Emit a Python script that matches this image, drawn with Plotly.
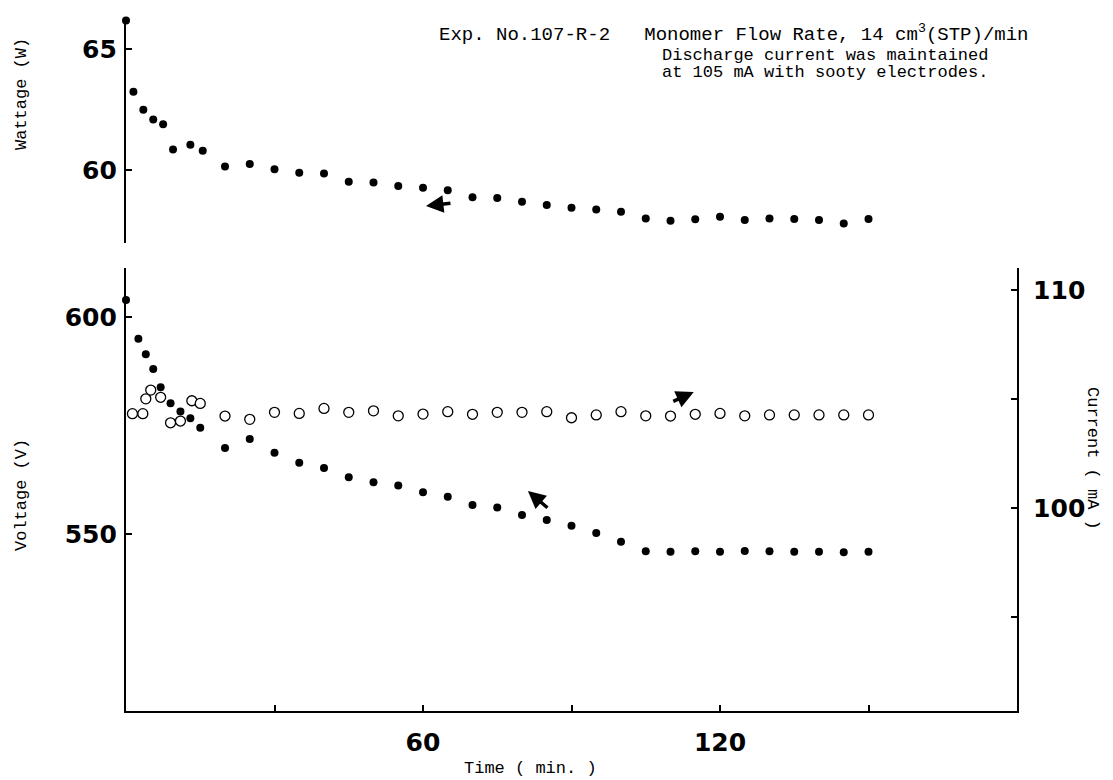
import plotly.graph_objects as go

# ---------------- data ----------------
# Upper panel: wattage (W), filled dots
t_watt = [0, 1.5, 3.5, 5.5, 7.5, 9.5, 13, 15.5, 20, 25,
          30, 35, 40, 45, 50, 55, 60, 65, 70, 75, 80, 85, 90, 95, 100,
          105, 110, 115, 120, 125, 130, 135, 140, 145, 150]
watt = [66.2, 63.25, 62.5, 62.1, 61.9, 60.85, 61.05, 60.8, 60.15, 60.25,
        60.04, 59.89, 59.86, 59.52, 59.49, 59.34, 59.27, 59.17, 58.87, 58.84,
        58.69, 58.55, 58.44, 58.37, 58.27, 58.0, 57.90, 57.96, 58.07, 57.93,
        58.0, 57.97, 57.93, 57.79, 57.97]

# Lower panel: voltage (V), filled dots
t_volt = [0, 2.5, 4, 5.5, 7, 9, 11, 13, 15, 20, 25,
          30, 35, 40, 45, 50, 55, 60, 65, 70, 75, 80, 85, 90, 95, 100,
          105, 110, 115, 120, 125, 130, 135, 140, 145, 150]
volt = [604.0, 595.1, 591.5, 588.1, 583.9, 580.2, 578.3, 576.8, 574.6, 569.9, 572.0,
        568.8, 566.5, 565.3, 563.2, 562.0, 561.3, 559.7, 558.7, 556.8, 556.2,
        554.5, 553.3, 552.0, 550.3, 548.3,
        546.1, 546.0, 546.1, 546.0, 546.2, 546.1, 546.0, 546.0, 545.9, 546.0]

# Lower panel: current (mA), open circles
t_curr = [1.3, 3.4, 4, 5, 7, 9, 11, 13.3, 15, 20, 25,
          30, 35, 40, 45, 50, 55, 60, 65, 70, 75, 80, 85, 90, 95, 100,
          105, 110, 115, 120, 125, 130, 135, 140, 145, 150]
curr = [104.33, 104.33, 105.01, 105.41, 105.08, 103.91, 103.99, 104.92, 104.80, 104.22, 104.07,
        104.39, 104.34, 104.57, 104.39, 104.46, 104.23, 104.31, 104.42, 104.30, 104.39,
        104.39, 104.42, 104.14, 104.27, 104.42,
        104.23, 104.22, 104.30, 104.34, 104.23, 104.27, 104.27, 104.27, 104.27, 104.27]

x_ticks = [60, 120]
x_minor = [30, 90, 150]
w_ticks = [60, 65]
v_ticks = [550, 600]
c_ticks = [100, 110]
c_minor = [95, 105]

# ---------------- styling ----------------
W, H = 1113, 780
ML, MR, MT, MB = 126, 96, 18, 69
PW, PH = W - ML - MR, H - MT - MB
MONO = "Liberation Mono, DejaVu Sans Mono, monospace"
TICKF = dict(family="DejaVu Sans, Arial, sans-serif", size=25, color="black", weight="bold")


def px_x(px):
    return (px - ML) / PW


def px_y(py):
    return (H - MB - py) / PH


fig = go.Figure()
fig.add_trace(go.Scatter(x=t_watt, y=watt, mode="markers", xaxis="x", yaxis="y",
                         marker=dict(color="black", size=8), cliponaxis=False,
                         showlegend=False))
fig.add_trace(go.Scatter(x=t_volt, y=volt, mode="markers", xaxis="x", yaxis="y2",
                         marker=dict(color="black", size=8), cliponaxis=False,
                         showlegend=False))
fig.add_trace(go.Scatter(x=t_curr, y=curr, mode="markers", xaxis="x", yaxis="y3",
                         marker=dict(color="white", size=10, symbol="circle",
                                     line=dict(color="black", width=1.3)),
                         cliponaxis=False, showlegend=False))

axis_common = dict(showgrid=False, zeroline=False, showline=True, linecolor="black",
                   linewidth=2.2, ticks="inside", ticklen=6, tickwidth=2,
                   tickcolor="black", tickfont=TICKF)
minor_common = dict(ticks="inside", ticklen=6, tickwidth=2, tickcolor="black",
                    showgrid=False)

lower_top = px_y(268)
upper_bottom = px_y(243)

fig.update_layout(
    width=W, height=H,
    margin=dict(l=ML, r=MR, t=MT, b=MB),
    paper_bgcolor="white", plot_bgcolor="white",
    xaxis=dict(range=[0, 180], domain=[0, 1], anchor="y2",
               tickvals=x_ticks, ticklabelstandoff=8,
               minor=dict(tickvals=x_minor, **minor_common), **axis_common),
    yaxis=dict(domain=[upper_bottom, 1], range=[56.98, 66.3], anchor="x",
               tickvals=w_ticks, ticklabelstandoff=2, **axis_common),
    yaxis2=dict(domain=[0, lower_top], range=[509.3, 611.4], anchor="x",
                tickvals=v_ticks, ticklabelstandoff=2, **axis_common),
    yaxis3=dict(overlaying="y2", side="right", anchor="x", range=[90.69, 111.01],
                tickvals=c_ticks, ticklabelstandoff=9,
                minor=dict(tickvals=c_minor, **minor_common), **axis_common),
)

annotations = [
    dict(text="Wattage (W)", x=px_x(21), y=px_y(94), textangle=-90),
    dict(text="Voltage (V)", x=px_x(21), y=px_y(495), textangle=-90),
    dict(text="Current ( mA )", x=px_x(1093), y=px_y(458), textangle=90),
    dict(text="Time ( min. )", x=px_x(530), y=px_y(768)),
]
for a in annotations:
    fig.add_annotation(xref="paper", yref="paper", showarrow=False,
                       xanchor="center", yanchor="middle",
                       font=dict(family=MONO, size=17, color="black"), **a)

fig.add_annotation(xref="paper", yref="paper", showarrow=False, xanchor="left",
                   yanchor="middle", x=px_x(437), y=px_y(33),
                   text="Exp. No.107-R-2\u00a0\u00a0\u00a0Monomer Flow Rate, 14 cm<sup>3</sup>(STP)/min",
                   font=dict(family=MONO, size=19, color="black"))
fig.add_annotation(xref="paper", yref="paper", showarrow=False, xanchor="left",
                   yanchor="middle", x=px_x(660), y=px_y(56),
                   text="Discharge current was maintained",
                   font=dict(family=MONO, size=17, color="black"))
fig.add_annotation(xref="paper", yref="paper", showarrow=False, xanchor="left",
                   yanchor="middle", x=px_x(660), y=px_y(72),
                   text="at 105 mA with sooty electrodes.",
                   font=dict(family=MONO, size=17, color="black"))

# direction arrows pointing to the axis each series belongs to
arrow_style = dict(showarrow=True, text="", arrowhead=2, arrowsize=1.0,
                   arrowwidth=3.5, arrowcolor="black")
fig.add_annotation(x=60.6, y=58.51, xref="x", yref="y", ax=26, ay=-3, **arrow_style)
fig.add_annotation(x=81.2, y=560.0, xref="x", yref="y2", ax=21, ay=18, **arrow_style)
fig.add_annotation(x=114.7, y=105.32, xref="x", yref="y3", ax=-22, ay=10, **arrow_style)

fig.write_html("out.html")
